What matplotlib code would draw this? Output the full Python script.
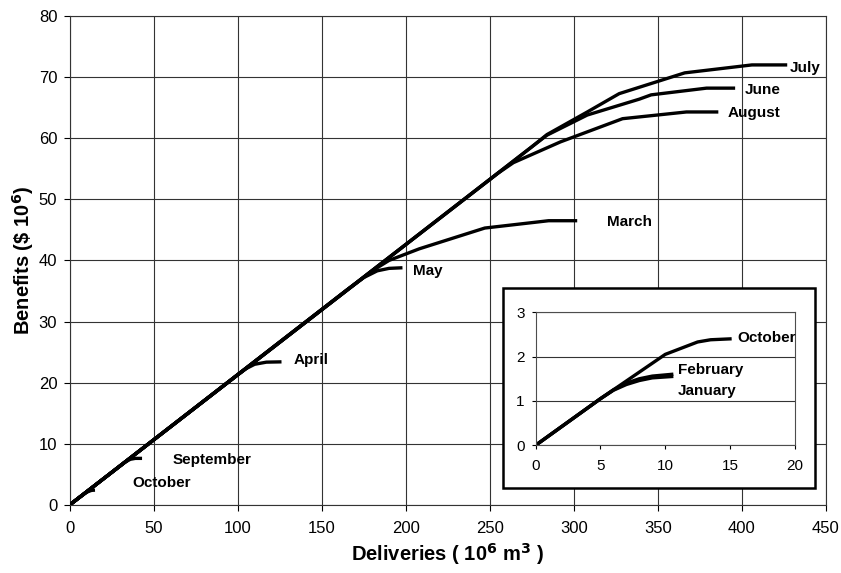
import matplotlib
matplotlib.use('Agg')

import matplotlib.pyplot as plt
from matplotlib.patches import Rectangle

plt.rcParams['font.family'] = ['Liberation Sans', 'DejaVu Sans']

# Main chart: benefit curves per month (deliveries 10^6 m3, benefits $10^6)
oct_x = [0, 5, 7.5, 10, 12.5, 13.5, 15]
oct_y = [0, 1.05, 1.55, 2.05, 2.33, 2.38, 2.4]
sep_x = [0, 33, 36, 39, 43]
sep_y = [0, 7.0, 7.45, 7.6, 7.6]
apr_x = [0, 100, 105, 110, 117, 126]
apr_y = [0, 21.3, 22.3, 23.0, 23.35, 23.4]
may_x = [0, 165, 175, 183, 190, 198]
may_y = [0, 35.2, 37.2, 38.3, 38.7, 38.8]
mar_x = [0, 180, 190, 208, 247, 285, 302]
mar_y = [0, 38.3, 40.0, 41.9, 45.3, 46.5, 46.5]
aug_x = [0, 255, 264, 292, 329, 367, 386]
aug_y = [0, 54.3, 56.0, 59.4, 63.2, 64.3, 64.3]
jun_x = [0, 275, 284, 308, 339, 346, 379, 396]
jun_y = [0, 58.6, 60.5, 63.8, 66.4, 67.1, 68.2, 68.2]
jul_x = [0, 275, 284, 308, 327, 366, 406, 427]
jul_y = [0, 58.6, 60.6, 64.3, 67.3, 70.7, 72.0, 72.0]

# Inset: small-delivery months
feb_x = [0, 5, 6, 7, 8, 9, 10.5]
feb_y = [0, 1.05, 1.25, 1.4, 1.5, 1.56, 1.6]
jan_x = [0, 5, 6, 7, 8, 9, 10.5]
jan_y = [0, 1.05, 1.24, 1.37, 1.46, 1.52, 1.55]

main_curves = [(oct_x, oct_y), (sep_x, sep_y), (apr_x, apr_y), (may_x, may_y),
               (mar_x, mar_y), (aug_x, aug_y), (jun_x, jun_y), (jul_x, jul_y)]
main_labels = [("October", 37.5, 3.6), ("September", 61, 7.4), ("April", 133, 23.7),
               ("May", 204, 38.3), ("March", 320, 46.3), ("August", 391.5, 64.2),
               ("June", 402, 67.9), ("July", 428.5, 71.5)]

fig = plt.figure(figsize=(8.41, 5.73), dpi=100)
ax = fig.add_axes([0.083, 0.119, 0.899, 0.853])

for xs, ys in main_curves:
    ax.plot(xs, ys, color='black', lw=2.4, solid_capstyle='butt', zorder=3)
for name, tx, ty in main_labels:
    ax.text(tx, ty, name, fontsize=11, fontweight='bold', va='center', ha='left')

ax.set_xlim(0, 450)
ax.set_ylim(0, 80)
ax.set_xticks(range(0, 451, 50))
ax.set_yticks(range(0, 81, 10))
ax.grid(True, color='0.2', lw=0.8)
ax.tick_params(labelsize=12, direction='out', length=4, width=0.8)
ax.tick_params(axis='x', pad=8)
ax.tick_params(axis='y', pad=5)
for s in ax.spines.values():
    s.set_linewidth(0.8)
    s.set_color('0.2')
ax.set_xlabel(r'Deliveries ( 10$^{\mathbf{6}}$ m$^{\mathbf{3}}$ )', fontsize=14.5,
              fontweight='bold', labelpad=3)
ax.set_ylabel(r'Benefits (\$ 10$^{\mathbf{6}}$)', fontsize=14.5, fontweight='bold', labelpad=2)

# inset box
box = Rectangle((0.598, 0.148), 0.371, 0.349, transform=fig.transFigure,
                facecolor='white', edgecolor='black', lw=1.8, zorder=5)
fig.patches.append(box)

ins = fig.add_axes([0.637, 0.223, 0.308, 0.232], zorder=6)
ins.plot(oct_x, oct_y, color='black', lw=2.4)
ins.plot(feb_x, feb_y, color='black', lw=2.4)
ins.plot(jan_x, jan_y, color='black', lw=2.4)
ins.text(15.6, 2.41, "October", fontsize=11, fontweight='bold', va='center')
ins.text(11.0, 1.69, "February", fontsize=11, fontweight='bold', va='center')
ins.text(11.0, 1.22, "January", fontsize=11, fontweight='bold', va='center')
ins.set_xlim(0, 20)
ins.set_ylim(0, 3)
ins.set_xticks(range(0, 21, 5))
ins.set_yticks([0, 1, 2, 3])
ins.grid(True, axis='y', color='0.2', lw=0.8)
ins.tick_params(labelsize=11, direction='out', length=3, width=0.8)
ins.tick_params(axis='x', pad=7)
ins.tick_params(axis='y', pad=5)
for s in ins.spines.values():
    s.set_linewidth(0.8)
    s.set_color('0.3')

fig.savefig('out.png', dpi=100)
